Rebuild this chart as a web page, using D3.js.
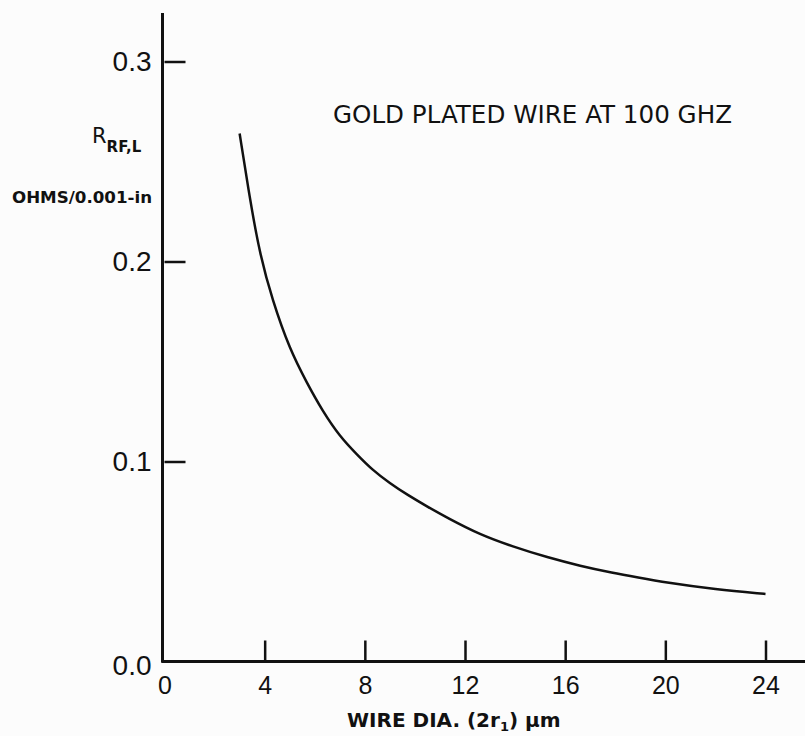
<!DOCTYPE html>
<html>
<head>
<meta charset="utf-8">
<script src="https://cdnjs.cloudflare.com/ajax/libs/d3/7.8.5/d3.min.js"></script>
<style>
  body { margin: 0; background: #fcfcfc; }
  svg { display: block; font-family: "DejaVu Sans", sans-serif; }
  .axis text { fill: #111; }
  .axis line { stroke: #111; stroke-width: 2.5px; }
</style>
</head>
<body>
<script>
// wire diameter (2r1), um
var diameter = [3, 3.4, 3.8, 4.3, 5.0, 5.7, 6.3, 7.0, 7.7, 8.3, 9.0, 9.7, 10.5, 11.3, 12.6, 13.9, 15.3, 16.6, 17.9, 18.9, 20, 22, 24];
// R_RF,L in ohms per 0.001 in
var resistance = [0.264, 0.232, 0.204, 0.181, 0.156, 0.139, 0.1255, 0.1125, 0.1033, 0.0958, 0.0891, 0.0833, 0.0774, 0.0718, 0.0634, 0.0575, 0.0520, 0.0478, 0.0443, 0.0420, 0.0395, 0.0360, 0.0338];

var xTicks = [0, 4, 8, 12, 16, 20, 24];
var yTicks = [0, 0.1, 0.2, 0.3];

var margin = {top: 61.5, right: 39.5, bottom: 74.5, left: 164.5},
    width = 805 - margin.left - margin.right,
    height = 736 - margin.top - margin.bottom;

var x = d3.scaleLinear()
    .domain([0, 24])
    .range([0, width]);

var y = d3.scaleLinear()
    .domain([0, 0.3])
    .range([height, 0]);

var xAxis = d3.axisBottom(x)
    .tickValues(xTicks)
    .tickFormat(d3.format("d"))
    .tickSizeInner(-21)
    .tickSizeOuter(0)
    .tickPadding(15);

var yAxis = d3.axisLeft(y)
    .tickValues(yTicks)
    .tickFormat(d3.format(".1f"))
    .tickSizeInner(-21)
    .tickSizeOuter(0)
    .tickPadding(13);

var svg = d3.select("body").append("svg")
    .attr("width", width + margin.left + margin.right)
    .attr("height", height + margin.top + margin.bottom)
  .append("g")
    .attr("transform", "translate(" + margin.left + "," + margin.top + ")");

var gx = svg.append("g")
    .attr("class", "x axis")
    .attr("transform", "translate(0," + height + ")")
    .call(xAxis);
gx.select(".domain").remove();
gx.selectAll("text").style("font-size", "25px");
gx.selectAll(".tick").filter(function(d) { return d === 0; }).select("line").remove();

var gy = svg.append("g")
    .attr("class", "y axis")
    .call(yAxis);
gy.select(".domain").remove();
gy.selectAll("text").style("font-size", "28px");
gy.selectAll(".tick").filter(function(d) { return d === 0; })
    .select("text").attr("dy", "0.45em");
gy.selectAll(".tick").filter(function(d) { return d === 0; }).select("line").remove();

// axis lines run past the tick range like the original drawing
svg.append("line")
    .attr("x1", -2).attr("x2", -2)
    .attr("y1", 13 - margin.top).attr("y2", height + 1)
    .style("stroke", "#111").style("stroke-width", 3);

svg.append("line")
    .attr("x1", -3).attr("x2", width + margin.right)
    .attr("y1", height).attr("y2", height)
    .style("stroke", "#111").style("stroke-width", 3);

var line = d3.line()
    .x(function(d, i) { return x(diameter[i]); })
    .y(function(d) { return y(d); })
    .curve(d3.curveBasis);

svg.append("path")
    .datum(resistance)
    .attr("d", line)
    .style("fill", "none")
    .style("stroke", "#111")
    .style("stroke-width", 2.5);

svg.append("text")
    .attr("x", 333 - margin.left)
    .attr("y", 123 - margin.top)
    .attr("textLength", 399)
    .attr("lengthAdjust", "spacingAndGlyphs")
    .style("font-size", "24px")
    .style("fill", "#111")
    .text("GOLD PLATED WIRE AT 100 GHZ");

// y label: R with subscript, then units
var yl = svg.append("text")
    .attr("x", 92 - margin.left)
    .attr("y", 143 - margin.top)
    .style("fill", "#111");
yl.append("tspan")
    .style("font-size", "21px")
    .text("R");
yl.append("tspan")
    .attr("dy", 9)
    .style("font-size", "15px")
    .style("font-weight", "bold")
    .text("RF,L");

svg.append("text")
    .attr("x", 12 - margin.left)
    .attr("y", 203 - margin.top)
    .attr("textLength", 140)
    .attr("lengthAdjust", "spacingAndGlyphs")
    .style("font-size", "16px")
    .style("font-weight", "bold")
    .style("fill", "#111")
    .text("OHMS/0.001-in");

var xl = svg.append("text")
    .attr("x", 347 - margin.left)
    .attr("y", 727 - margin.top)
    .style("font-size", "20px")
    .style("font-weight", "bold")
    .style("fill", "#111");
xl.append("tspan").text("WIRE DIA. (2r");
xl.append("tspan").attr("dy", 4).style("font-size", "13px").text("1");
xl.append("tspan").attr("dy", -4).text(") \u03bcm");
</script>
</body>
</html>
